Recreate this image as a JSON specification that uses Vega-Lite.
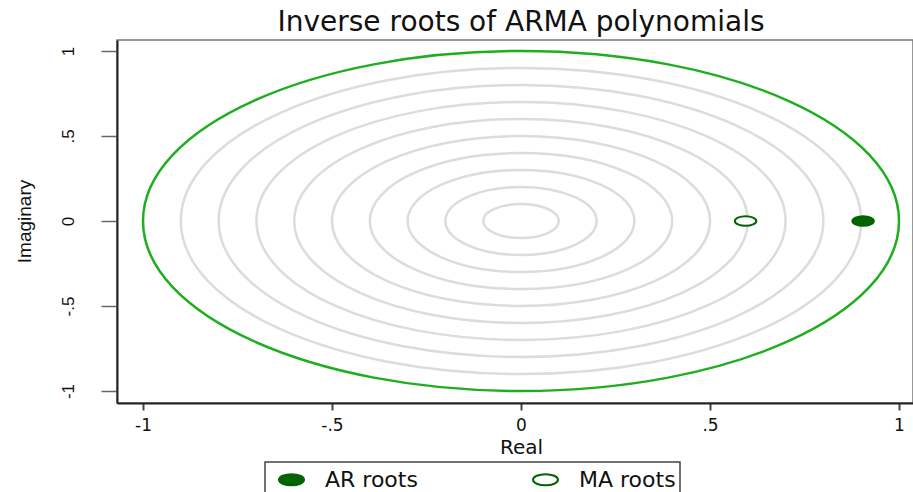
{
  "$schema": "https://vega.github.io/schema/vega-lite/v6.json",
  "width": 796,
  "height": 363,
  "autosize": {"type": "none"},
  "padding": {"left": 117, "top": 40, "right": 0, "bottom": 89},
  "background": "white",
  "config": {
    "view": {"stroke": "#777777", "strokeWidth": 1.5},
    "legend": {"strokeWidth": 1.5}
  },
  "title": {
    "text": "Inverse roots of ARMA polynomials",
    "font": "DejaVu Sans",
    "fontSize": 28,
    "fontWeight": "normal",
    "color": "#111111",
    "anchor": "middle",
    "baseline": "bottom",
    "offset": 2,
    "dy": 27,
    "dx": 6
  },
  "datasets": {
    "rings": [
      {"r": 0.1, "kind": "grid"},
      {"r": 0.2, "kind": "grid"},
      {"r": 0.3, "kind": "grid"},
      {"r": 0.4, "kind": "grid"},
      {"r": 0.5, "kind": "grid"},
      {"r": 0.6, "kind": "grid"},
      {"r": 0.7, "kind": "grid"},
      {"r": 0.8, "kind": "grid"},
      {"r": 0.9, "kind": "grid"},
      {"r": 1.0, "kind": "unit"}
    ],
    "roots": [
      {"real": 0.905, "imag": 0, "type": "AR roots"},
      {"real": 0.594, "imag": 0, "type": "MA roots"}
    ]
  },
  "layer": [
    {
      "data": {"name": "rings"},
      "mark": {
        "type": "point",
        "shape": "M1,0C1,0.2484,0.5523,0.4497,0,0.4497C-0.5523,0.4497,-1,0.2484,-1,0C-1,-0.2484,-0.5523,-0.4497,0,-0.4497C0.5523,-0.4497,1,-0.2484,1,0Z",
        "filled": false,
        "opacity": 1,
        "strokeWidth": 2.5,
        "clip": true
      },
      "encoding": {
        "x": {
          "datum": 0, "type": "quantitative",
          "scale": {"domain": [-1.0688, 1.037], "nice": false, "zero": false},
          "axis": {
            "title": "Real",
            "values": [-1, -0.5, 0, 0.5, 1],
            "labelExpr": "datum.value < -0.75 ? '-1' : datum.value < -0.25 ? '-.5' : datum.value < 0.25 ? '0' : datum.value < 0.75 ? '.5' : '1'",
            "grid": false,
            "domainColor": "#222222",
            "domainWidth": 2,
            "tickColor": "#444444",
            "tickWidth": 2,
            "tickSize": 7,
            "labelFont": "DejaVu Sans",
            "labelFontSize": 17,
            "labelColor": "#111111",
            "labelPadding": 7,
            "labelBaseline": "top",
            "labelFlush": false,
            "titleFont": "DejaVu Sans",
            "titleFontSize": 20,
            "titleFontWeight": "normal",
            "titleColor": "#111111",
            "titleBaseline": "top",
            "titleAlign": "center",
            "titleX": 404,
            "titleY": 34
          }
        },
        "y": {
          "datum": 0, "type": "quantitative",
          "scale": {"domain": [-1.0706, 1.0647], "nice": false, "zero": false},
          "axis": {
            "title": "Imaginary",
            "values": [-1, -0.5, 0, 0.5, 1],
            "labelExpr": "datum.value < -0.75 ? '-1' : datum.value < -0.25 ? '-.5' : datum.value < 0.25 ? '0' : datum.value < 0.75 ? '.5' : '1'",
            "grid": false,
            "domainColor": "#222222",
            "domainWidth": 2,
            "tickColor": "#666666",
            "tickWidth": 1.5,
            "tickSize": 16,
            "labelFont": "Liberation Sans",
            "labelFontSize": 17,
            "labelColor": "#111111",
            "labelAngle": 270,
            "labelAlign": "center",
            "labelBaseline": "middle",
            "labelPadding": 33,
            "labelFlush": false,
            "titleFont": "Liberation Sans",
            "titleFontSize": 19,
            "titleFontWeight": "normal",
            "titleColor": "#111111",
            "titleAngle": 270,
            "titleAlign": "center",
            "titleBaseline": "middle",
            "titleX": -93,
            "titleY": 181
          }
        },
        "size": {"field": "r", "type": "quantitative", "scale": {"type": "pow", "exponent": 2, "domain": [0, 1], "range": [0, 571536], "zero": true}, "legend": null},
        "stroke": {"field": "kind", "type": "nominal", "scale": {"domain": ["grid", "unit"], "range": ["#dcdcdc", "#1fae1f"]}, "legend": null}
      }
    },
    {
      "data": {"name": "roots"},
      "mark": {
        "type": "point",
        "shape": "M1,0C1,0.2484,0.5523,0.4497,0,0.4497C-0.5523,0.4497,-1,0.2484,-1,0C-1,-0.2484,-0.5523,-0.4497,0,-0.4497C0.5523,-0.4497,1,-0.2484,1,0Z",
        "filled": true,
        "opacity": 1,
        "stroke": "#006400",
        "strokeWidth": 2,
        "size": 460
      },
      "encoding": {
        "x": {
          "field": "real", "type": "quantitative",
          "scale": {"domain": [-1.0688, 1.037], "nice": false, "zero": false},
          "axis": {
            "title": "Real",
            "values": [-1, -0.5, 0, 0.5, 1],
            "labelExpr": "datum.value < -0.75 ? '-1' : datum.value < -0.25 ? '-.5' : datum.value < 0.25 ? '0' : datum.value < 0.75 ? '.5' : '1'",
            "grid": false,
            "domainColor": "#222222",
            "domainWidth": 2,
            "tickColor": "#444444",
            "tickWidth": 2,
            "tickSize": 7,
            "labelFont": "DejaVu Sans",
            "labelFontSize": 17,
            "labelColor": "#111111",
            "labelPadding": 7,
            "labelBaseline": "top",
            "labelFlush": false,
            "titleFont": "DejaVu Sans",
            "titleFontSize": 20,
            "titleFontWeight": "normal",
            "titleColor": "#111111",
            "titleBaseline": "top",
            "titleAlign": "center",
            "titleX": 404,
            "titleY": 34
          }
        },
        "y": {
          "field": "imag", "type": "quantitative",
          "scale": {"domain": [-1.0706, 1.0647], "nice": false, "zero": false},
          "axis": {
            "title": "Imaginary",
            "values": [-1, -0.5, 0, 0.5, 1],
            "labelExpr": "datum.value < -0.75 ? '-1' : datum.value < -0.25 ? '-.5' : datum.value < 0.25 ? '0' : datum.value < 0.75 ? '.5' : '1'",
            "grid": false,
            "domainColor": "#222222",
            "domainWidth": 2,
            "tickColor": "#666666",
            "tickWidth": 1.5,
            "tickSize": 16,
            "labelFont": "Liberation Sans",
            "labelFontSize": 17,
            "labelColor": "#111111",
            "labelAngle": 270,
            "labelAlign": "center",
            "labelBaseline": "middle",
            "labelPadding": 33,
            "labelFlush": false,
            "titleFont": "Liberation Sans",
            "titleFontSize": 19,
            "titleFontWeight": "normal",
            "titleColor": "#111111",
            "titleAngle": 270,
            "titleAlign": "center",
            "titleBaseline": "middle",
            "titleX": -93,
            "titleY": 181
          }
        },
        "fill": {
          "field": "type", "type": "nominal",
          "scale": {"domain": ["AR roots", "MA roots"], "range": ["#006400", "#ffffff"]},
          "legend": {
            "title": null,
            "orient": "none",
            "legendX": 148,
            "legendY": 422,
            "direction": "horizontal",
            "columns": 2,
            "symbolType": "M1,0C1,0.2484,0.5523,0.4497,0,0.4497C-0.5523,0.4497,-1,0.2484,-1,0C-1,-0.2484,-0.5523,-0.4497,0,-0.4497C0.5523,-0.4497,1,-0.2484,1,0Z",
            "symbolSize": 625,
            "symbolStrokeColor": "#006400",
            "symbolStrokeWidth": 2,
            "symbolOpacity": 1,
            "symbolOffset": 9,
            "labelFont": "DejaVu Sans",
            "labelFontSize": 22,
            "labelColor": "#111111",
            "labelOffset": 20,
            "columnPadding": 105,
            "padding": 4,
            "strokeColor": "#444444",
            "fillColor": "#ffffff"
          }
        }
      }
    }
  ]
}
